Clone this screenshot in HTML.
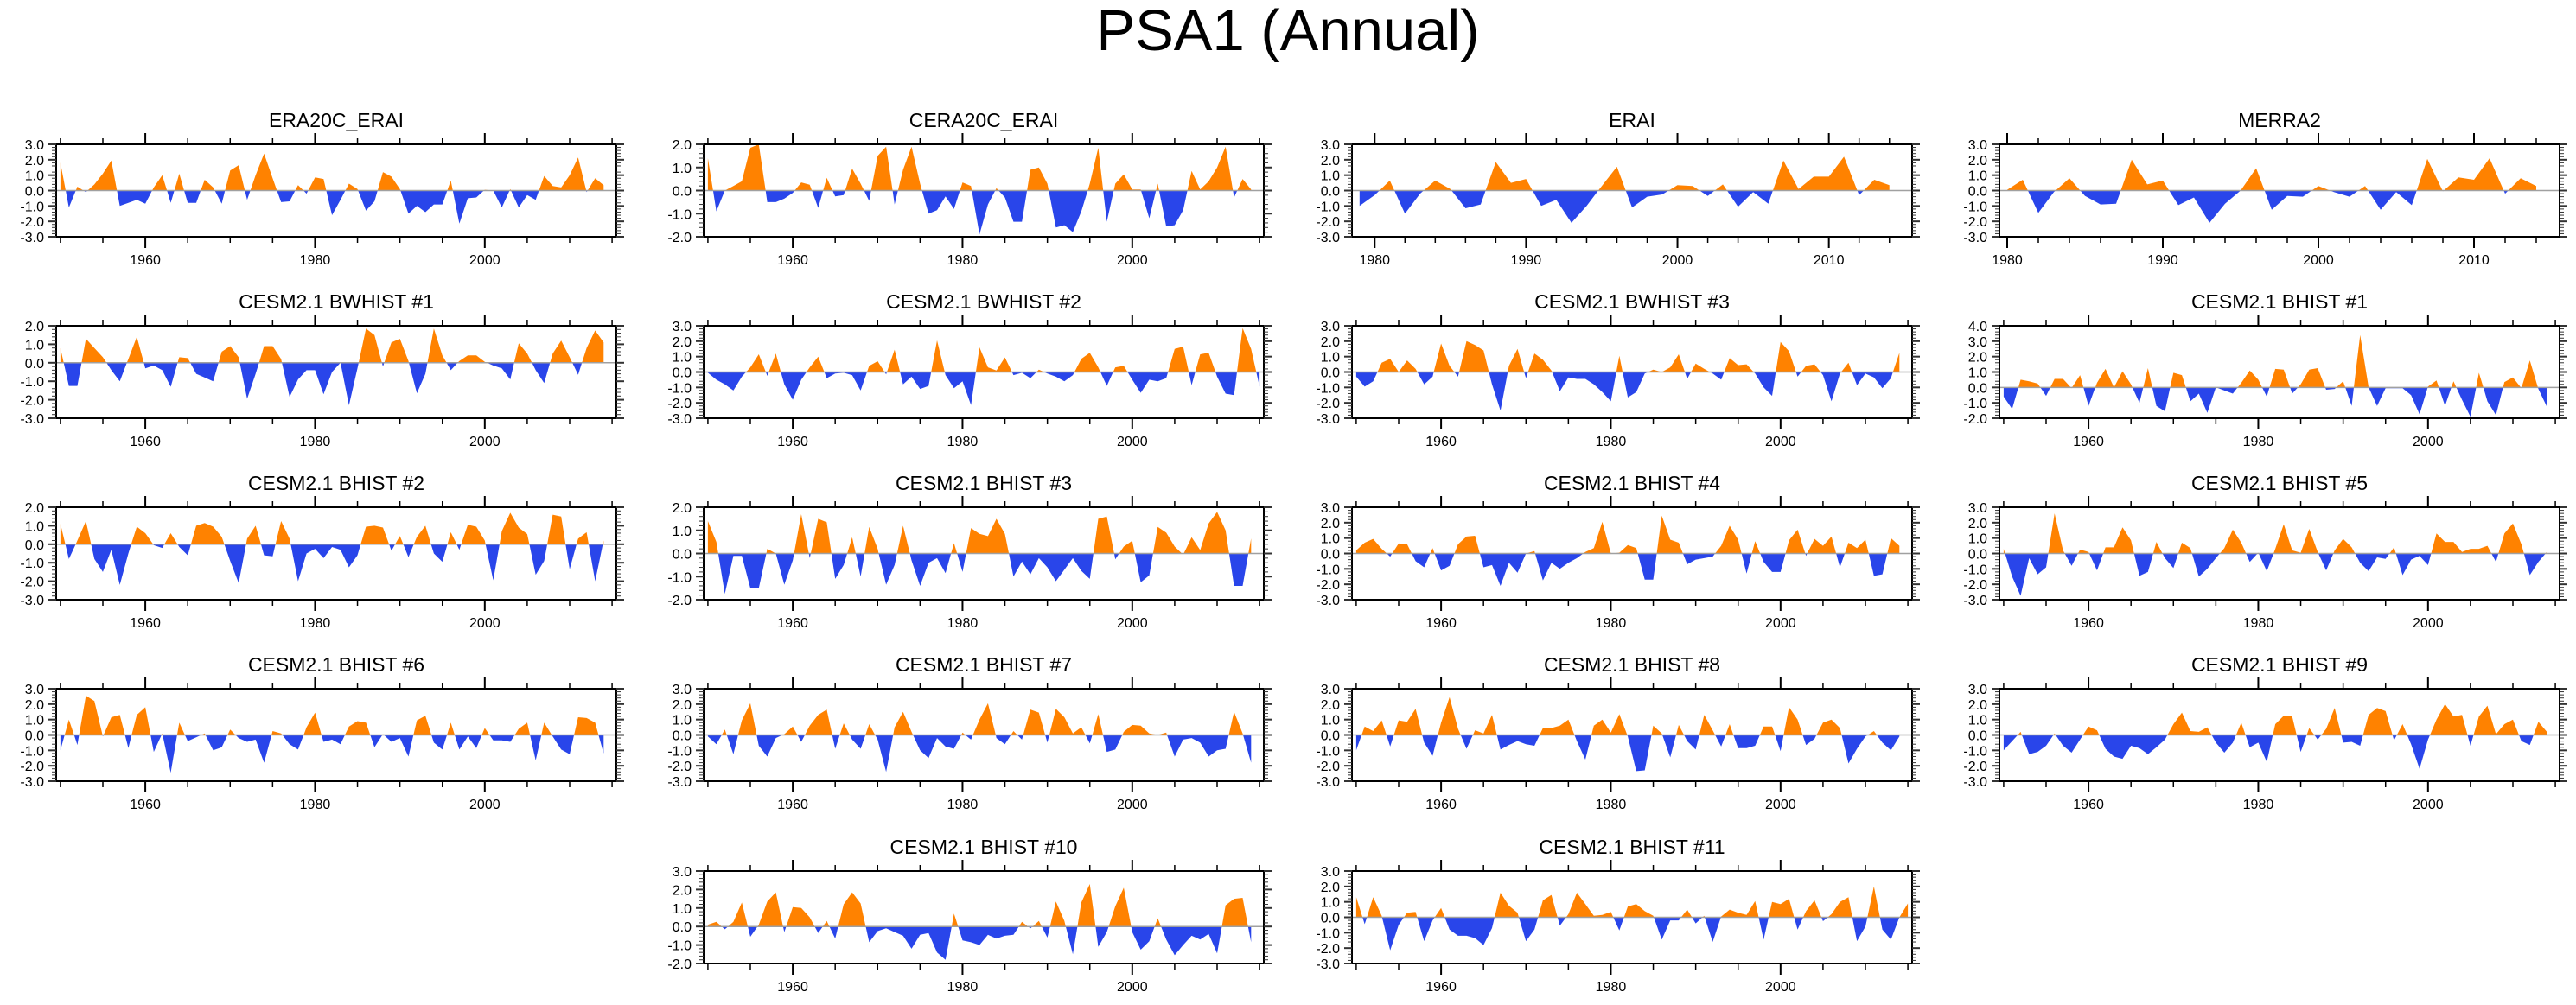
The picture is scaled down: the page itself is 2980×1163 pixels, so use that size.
<!DOCTYPE html>
<html><head><meta charset="utf-8"><title>PSA1 (Annual)</title>
<style>html,body{margin:0;padding:0;background:#fff;}svg{display:block;font-family:"Liberation Sans",Arial,sans-serif;}</style>
</head><body>
<svg id="chart" width="2980" height="1163" viewBox="0 0 2980 1163" xmlns="http://www.w3.org/2000/svg">
<rect width="2980" height="1163" fill="#fff"/>
<text x="1490" y="58" font-size="67" text-anchor="middle" fill="#000">PSA1 (Annual)</text>
</svg>
<script>
const era20c = [1.8,-1.1,0.25,-0.1,0.4,1.1,1.95,-1.0,-0.8,-0.6,-0.85,0.2,1.0,-0.8,1.1,-0.8,-0.8,0.7,0.2,-0.85,1.3,1.65,-0.6,1.0,2.4,0.8,-0.75,-0.7,0.35,-0.2,0.85,0.75,-1.6,-0.6,0.45,0.1,-1.3,-0.7,1.2,0.9,0.1,-1.5,-1.0,-1.4,-0.9,-0.9,0.65,-2.15,-0.5,-0.45,0.05,0.0,-1.1,0.1,-1.1,-0.3,-0.6,0.95,0.3,0.2,1.0,2.15,-0.1,0.8,0.35];
const cera20c = [1.4,-0.9,0.0,0.2,0.4,1.85,2.0,-0.5,-0.5,-0.35,-0.1,0.35,0.25,-0.75,0.55,-0.25,-0.2,0.95,0.3,-0.45,1.5,1.9,-0.6,0.9,1.9,0.3,-1.0,-0.85,-0.25,-0.8,0.35,0.2,-1.9,-0.6,0.1,-0.3,-1.35,-1.35,0.9,1.0,0.3,-1.6,-1.5,-1.8,-0.9,0.3,1.85,-1.35,0.3,0.7,0.05,0.05,-1.2,0.3,-1.55,-1.5,-0.85,0.85,0.05,0.4,1.0,1.9,-0.3,0.5,0.05];
const erai = [-1.0,-0.3,0.65,-1.5,-0.2,0.65,0.1,-1.15,-0.9,1.85,0.5,0.75,-1.0,-0.6,-2.1,-1.0,0.3,1.55,-1.1,-0.4,-0.25,0.35,0.3,-0.35,0.4,-1.05,-0.1,-0.85,1.95,0.1,0.9,0.9,2.2,-0.3,0.7,0.35];
const merra2 = [0.05,0.7,-1.45,-0.1,0.8,-0.35,-0.9,-0.85,2.0,0.4,0.65,-0.95,-0.45,-2.1,-0.85,0.0,1.45,-1.25,-0.35,-0.4,0.3,-0.1,-0.4,0.3,-1.25,-0.1,-0.95,2.05,-0.05,0.85,0.7,2.1,-0.2,0.8,0.3];
const bwhist1 = [0.8,-1.25,-1.25,1.3,0.8,0.3,-0.4,-1.0,0.2,1.4,-0.3,-0.15,-0.4,-1.3,0.3,0.25,-0.6,-0.8,-1.0,0.6,0.9,0.3,-1.95,-0.6,0.9,0.9,0.2,-1.85,-0.9,-0.4,-0.4,-1.7,-0.5,0.0,-2.3,-0.3,1.85,1.5,-0.2,1.1,1.3,0.1,-1.65,-0.6,1.85,0.4,-0.4,0.1,0.4,0.4,0.05,-0.15,-0.3,-0.9,1.05,0.5,-0.4,-1.1,0.5,1.2,0.3,-0.65,0.8,1.75,1.1];
const bwhist2 = [-0.05,-0.5,-0.8,-1.2,-0.3,0.3,1.15,-0.25,1.2,-0.8,-1.8,-0.5,0.3,1.0,-0.4,-0.1,-0.05,-0.2,-1.2,0.4,0.7,-0.15,1.45,-0.8,-0.3,-1.1,-0.9,2.05,-0.2,-1.05,-0.6,-2.15,1.6,0.3,0.1,0.95,-0.2,-0.05,-0.4,0.15,-0.1,-0.3,-0.6,-0.2,0.85,1.25,0.3,-0.9,0.3,0.4,-0.5,-1.35,-0.5,-0.6,-0.4,1.5,1.65,-0.85,1.15,1.25,-0.3,-1.4,-1.5,2.85,1.5,-0.95];
const bwhist3 = [-0.3,-0.95,-0.6,0.6,0.85,0.0,0.75,0.2,-0.8,-0.3,1.85,0.4,-0.3,2.0,1.75,1.4,-0.8,-2.5,0.4,1.5,-0.4,1.2,0.8,0.1,-1.25,-0.35,-0.45,-0.45,-0.8,-1.3,-1.9,1.05,-1.65,-1.3,-0.1,0.15,0.0,0.3,1.15,-0.45,0.55,0.2,-0.1,-0.5,0.9,0.45,0.5,-0.1,-1.0,-1.55,1.95,1.35,-0.3,0.4,0.5,-0.2,-1.9,-0.1,0.6,-0.85,-0.1,-0.35,-1.05,-0.4,1.25];
const bhist1 = [-0.6,-1.4,0.5,0.4,0.25,-0.55,0.55,0.55,-0.05,0.8,-1.2,0.3,1.2,0.0,1.05,0.2,-1.0,1.25,-1.2,-1.55,0.95,0.8,-0.9,-0.4,-1.65,0.0,-0.2,-0.4,0.3,1.1,0.5,-0.6,1.2,1.15,-0.4,0.2,1.15,1.25,-0.15,-0.1,0.4,-1.2,3.4,0.0,-1.2,-0.05,-0.05,-0.05,-0.5,-1.75,0.05,0.45,-1.2,0.4,-0.8,-1.9,0.95,-0.9,-1.8,0.35,0.65,-0.05,1.75,-0.1,-1.25];
const bhist2 = [1.1,-0.8,0.2,1.25,-0.8,-1.5,-0.3,-2.2,-0.5,0.95,0.6,-0.05,-0.2,0.6,-0.15,-0.6,1.0,1.15,0.95,0.4,-0.9,-2.1,0.3,1.0,-0.6,-0.65,1.25,0.3,-2.0,-0.5,-0.25,-0.75,-0.15,-0.3,-1.25,-0.6,0.95,1.0,0.9,-0.35,0.45,-0.7,0.4,1.0,-0.5,-0.95,0.65,-0.3,1.05,0.95,0.2,-1.95,0.7,1.7,0.9,0.55,-1.65,-0.9,1.6,1.5,-1.35,0.3,0.65,-2.0,0.2];
const bhist3 = [1.4,0.5,-1.75,-0.1,-0.1,-1.5,-1.5,0.2,0.0,-1.35,-0.3,1.7,-0.2,1.5,1.35,-1.1,-0.5,0.7,-1.0,1.15,0.2,-1.35,-0.5,1.2,-0.3,-1.4,-0.4,-0.2,-0.85,0.45,-0.8,1.1,0.85,0.75,1.5,0.85,-1.0,-0.35,-0.9,-0.2,-0.6,-1.2,-0.7,-0.2,-0.75,-1.1,1.5,1.6,-0.25,0.3,0.55,-1.25,-0.95,1.15,0.9,0.3,-0.05,0.7,0.15,1.3,1.8,1.0,-1.4,-1.4,0.65];
const bhist4 = [0.2,0.7,0.95,0.3,-0.2,0.65,0.6,-0.5,-0.9,0.35,-1.1,-0.8,0.6,1.1,1.15,-0.9,-0.75,-2.1,-0.6,-1.25,0.0,0.15,-1.75,-0.6,-1.0,-0.6,-0.3,0.1,0.35,2.05,0.0,0.05,0.55,0.35,-1.7,-1.7,2.45,0.9,0.7,-0.7,-0.4,-0.3,-0.2,0.5,1.8,0.9,-1.3,0.8,-0.55,-1.2,-1.2,0.85,1.55,-0.15,0.95,0.5,1.1,-0.9,0.7,0.35,0.9,-1.45,-1.35,1.0,0.5];
const bhist5 = [0.3,-1.5,-2.75,-0.3,-1.35,-0.9,2.6,0.2,-0.8,0.25,0.1,-1.1,0.4,0.4,1.7,0.85,-1.45,-1.2,0.75,-0.3,-0.95,0.7,0.35,-1.5,-1.0,-0.3,0.35,1.55,0.7,-0.55,0.05,-1.15,0.3,1.9,0.2,0.05,1.6,0.1,-1.1,0.2,0.95,0.4,-0.6,-1.15,-0.25,-0.35,0.4,-1.4,-0.4,-0.15,-0.75,1.3,0.75,0.75,0.1,0.3,0.3,0.5,-0.55,1.3,1.95,0.6,-1.4,-0.55,0.1];
const bhist6 = [-1.0,1.0,-0.65,2.55,2.2,-0.1,1.15,1.3,-0.85,1.3,1.8,-1.1,0.1,-2.45,0.8,-0.4,-0.15,0.1,-1.0,-0.8,0.35,-0.2,-0.45,-0.3,-1.8,0.25,0.1,-0.6,-0.95,0.5,1.45,-0.45,-0.3,-0.6,0.55,0.9,0.8,-0.8,0.05,-0.45,-0.2,-1.4,0.95,1.25,-0.5,-0.95,0.8,-0.95,-0.1,-0.85,0.45,-0.35,-0.35,-0.45,0.4,0.8,-1.65,0.8,-0.1,-0.95,-1.25,1.15,1.1,0.8,-1.2];
const bhist7 = [-0.1,-0.6,0.35,-1.25,0.95,2.05,-0.7,-1.4,-0.2,0.05,0.55,-0.45,0.6,1.3,1.65,-0.9,0.75,-0.3,-0.9,0.7,-0.3,-2.4,0.5,1.5,0.2,-1.0,-1.5,-0.2,-0.75,-0.9,0.15,-0.3,1.0,2.05,-0.2,-0.6,0.25,-0.3,1.65,1.45,-0.5,1.7,1.15,0.1,0.5,-0.55,1.35,-1.1,-0.95,0.2,0.65,0.6,0.1,0.0,0.15,-1.4,-0.3,-0.2,-0.5,-1.4,-1.0,-0.9,1.5,0.1,-1.8];
const bhist8 = [-1.0,0.55,0.25,0.95,-0.75,0.95,0.85,1.7,-0.5,-1.35,0.8,2.45,0.4,-0.9,0.3,0.1,1.3,-0.95,-0.65,-0.4,-0.6,-0.7,0.45,0.45,0.6,1.0,-0.4,-1.6,0.6,1.0,0.15,1.35,-0.1,-2.35,-2.3,0.6,0.1,-1.45,0.65,-0.4,-0.95,1.3,0.3,-0.75,0.7,-0.85,-0.85,-0.7,0.55,0.55,-1.05,1.8,1.0,-0.65,-0.25,0.8,1.0,0.45,-1.85,-0.9,-0.1,0.25,-0.5,-1.0,-0.1];
const bhist9 = [-1.0,-0.4,0.2,-1.25,-1.1,-0.7,0.1,-0.7,-1.15,-0.3,0.55,0.3,-0.9,-1.4,-1.55,-0.7,-0.85,-1.25,-0.8,-0.3,0.7,1.45,0.25,0.2,0.5,-0.5,-1.15,-0.5,0.8,-0.8,-0.5,-1.75,0.7,1.25,1.2,-1.1,0.45,-0.3,0.4,1.75,-0.5,-0.45,-0.7,1.3,1.75,1.55,-0.35,0.7,-0.6,-2.2,-0.3,1.0,2.0,1.2,1.3,-0.7,1.2,1.9,0.05,0.7,1.0,-0.4,-0.65,0.85,0.2];
const bhist10 = [0.1,0.25,-0.15,0.25,1.3,-0.55,0.1,1.35,1.85,-0.3,1.05,1.0,0.5,-0.35,0.3,-0.65,1.2,1.85,1.25,-0.85,-0.25,-0.1,-0.3,-0.5,-1.2,-0.45,-0.35,-1.4,-1.8,0.7,-0.75,-0.85,-1.0,-0.45,-0.65,-0.5,-0.45,0.25,-0.1,0.3,-0.6,1.35,0.3,-1.5,1.3,2.3,-1.1,-0.3,1.1,2.1,-0.3,-1.25,-0.8,0.45,-0.7,-1.55,-1.0,-0.5,-0.7,-0.4,-1.45,1.15,1.5,1.55,-0.85];
const bhist11 = [1.3,-0.45,1.3,0.1,-2.15,-0.5,0.3,0.35,-1.55,-0.2,0.6,-0.8,-1.2,-1.2,-1.35,-1.8,-0.7,1.6,0.75,0.3,-1.55,-0.8,1.1,1.45,-0.55,0.2,1.6,0.85,0.1,0.15,0.35,-0.85,0.7,0.85,0.4,0.1,-1.45,-0.2,-0.2,0.5,-0.4,0.1,-1.6,0.05,0.5,0.3,0.15,1.05,-1.45,1.0,0.85,1.2,-0.8,0.4,1.1,-0.25,0.2,1.0,1.3,-1.55,-0.6,2.0,-0.8,-1.45,0.0,0.9];

const panelTitles = ["ERA20C_ERAI","CERA20C_ERAI","ERAI","MERRA2","CESM2.1 BWHIST #1","CESM2.1 BWHIST #2","CESM2.1 BWHIST #3","CESM2.1 BHIST #1","CESM2.1 BHIST #2","CESM2.1 BHIST #3","CESM2.1 BHIST #4","CESM2.1 BHIST #5","CESM2.1 BHIST #6","CESM2.1 BHIST #7","CESM2.1 BHIST #8","CESM2.1 BHIST #9","CESM2.1 BHIST #10","CESM2.1 BHIST #11"];
const panelSeries = [era20c,cera20c,erai,merra2,bwhist1,bwhist2,bwhist3,bhist1,bhist2,bhist3,bhist4,bhist5,bhist6,bhist7,bhist8,bhist9,bhist10,bhist11];
const panelStartYear = [1950,1950,1979,1980,1950,1950,1950,1950,1950,1950,1950,1950,1950,1950,1950,1950,1950,1950];
const panelYMin = [-3,-2,-3,-3,-3,-3,-3,-2,-3,-2,-3,-3,-3,-3,-3,-3,-2,-3];
const panelYMax = [3,2,3,3,2,3,3,4,2,2,3,3,3,3,3,3,3,3];

const colX = [65, 814, 1564, 2313];
const rowY = [167, 377, 587, 797, 1008];
const cellPos = [[0,0],[1,0],[2,0],[3,0],[0,1],[1,1],[2,1],[3,1],[0,2],[1,2],[2,2],[3,2],[0,3],[1,3],[2,3],[3,3],[1,4],[2,4]];
const W = 648, H = 107;
const ORANGE = "#FF8200", BLUE = "#2945EA";
const NS = "http://www.w3.org/2000/svg";
const svg = document.getElementById('chart');

function mk(tag, attrs, parent) {
  const e = document.createElementNS(NS, tag);
  for (const k in attrs) e.setAttribute(k, attrs[k]);
  (parent || svg).appendChild(e);
  return e;
}
function slug(t){return t.toLowerCase().replace(/[^a-z0-9]+/g,'-').replace(/^-|-$/g,'');}

panelTitles.forEach((title, p) => {
  const [c, r] = cellPos[p];
  const L = colX[c], T = rowY[r];
  const data = panelSeries[p];
  const y0 = panelStartYear[p];
  const isShort = y0 >= 1979;
  const xmin = isShort ? (y0 === 1979 ? 1978.5 : 1979.5) : 1949.5;
  const xmax = 2015.5;
  const ymin = panelYMin[p], ymax = panelYMax[p];
  const sx = v => L + (v - xmin) / (xmax - xmin) * W;
  const sy = v => T + (ymax - v) / (ymax - ymin) * H;
  const g = mk('g', {});
  
  

  const tt = mk('text', {x: L + W/2, y: T - 20, 'font-size': 23, 'text-anchor': 'middle', fill: '#000'}, g);
  
  
  tt.textContent = title;

  const pts = [];
  for (let i = 0; i < data.length; i++) {
    const x = y0 + i, v = data[i];
    if (i > 0) {
      const pv = data[i-1];
      if ((pv > 0 && v < 0) || (pv < 0 && v > 0)) {
        const t = pv / (pv - v);
        pts.push([x - 1 + t, 0]);
      }
    }
    pts.push([x, v]);
  }
  const buildPath = (fn) => {
    let d = 'M' + sx(pts[0][0]).toFixed(1) + ',' + sy(0).toFixed(1);
    pts.forEach(pt => { d += 'L' + sx(pt[0]).toFixed(1) + ',' + sy(fn(pt[1])).toFixed(1); });
    d += 'L' + sx(pts[pts.length-1][0]).toFixed(1) + ',' + sy(0).toFixed(1) + 'Z';
    return d;
  };
  const pos = mk('path', {d: buildPath(v => Math.max(v, 0)), fill: ORANGE}, g);
  
  
  const neg = mk('path', {d: buildPath(v => Math.min(v, 0)), fill: BLUE}, g);
  
  

  const zl = mk('line', {x1: L, x2: L + W, y1: sy(0), y2: sy(0), stroke: '#a0a0a0', 'stroke-width': 1.5}, g);
  
  

  const box = mk('rect', {x: L, y: T, width: W, height: H, fill: 'none', stroke: '#000', 'stroke-width': 2}, g);
  
  

  const majorStep = isShort ? 10 : 20, minorStep = isShort ? 2 : 5;
  const start = Math.ceil(xmin / minorStep) * minorStep;
  for (let yr = start; yr <= xmax; yr += minorStep) {
    const x = sx(yr);
    const major = (yr % majorStep === 0);
    const len = major ? 13 : 7;
    mk('line', {x1: x, x2: x, y1: T, y2: T - len, stroke: '#000', 'stroke-width': major ? 2 : 1.5}, g);
    mk('line', {x1: x, x2: x, y1: T + H, y2: T + H + len, stroke: '#000', 'stroke-width': major ? 2 : 1.5}, g);
    if (major) {
      const lb = mk('text', {x: x, y: T + H + 32, 'font-size': 16, 'text-anchor': 'middle', fill: '#000'}, g);
      
      
      lb.textContent = String(yr);
    }
  }
  for (let k = 0; k <= (ymax - ymin) * 5; k++) {
    const v = ymin + k * 0.2;
    const y = sy(v);
    const major = (k % 5 === 0);
    const len = major ? 9 : 5;
    mk('line', {x1: L, x2: L - len, y1: y, y2: y, stroke: '#333', 'stroke-width': major ? 2 : 1}, g);
    mk('line', {x1: L + W, x2: L + W + len, y1: y, y2: y, stroke: '#333', 'stroke-width': major ? 2 : 1}, g);
    if (major) {
      const lb = mk('text', {x: L - 14, y: y + 6, 'font-size': 16, 'text-anchor': 'end', fill: '#000'}, g);
      
      
      lb.textContent = (Math.round(v * 10) / 10).toFixed(1);
    }
  }
});
</script>
</body></html>
